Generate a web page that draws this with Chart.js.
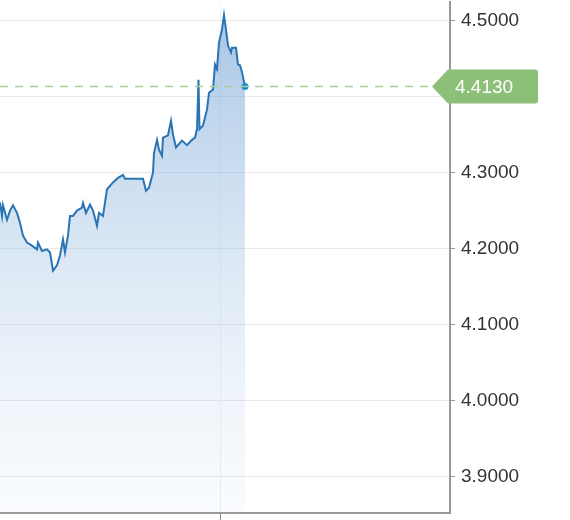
<!DOCTYPE html>
<html>
<head>
<meta charset="utf-8">
<script src="https://cdn.jsdelivr.net/npm/chart.js@4"></script>
<style>
  html, body { margin: 0; padding: 0; background: #fff; }
  #wrap { width: 570px; height: 520px; overflow: hidden; position: relative; }
  #chart { position: absolute; left: -4px; top: -15px; }
</style>
</head>
<body>
<div id="wrap"><canvas id="chart" width="574" height="545"></canvas></div>
<script>
// position along the time axis (0..450 span) and price
const times = [0, 2, 3, 7, 10, 13, 17, 20, 23, 27, 32, 37, 38, 42, 47, 50, 53, 57, 60, 63, 65, 68, 70, 73, 77, 82, 83, 86, 90, 93, 97, 99, 103, 107, 113, 118, 123, 125, 143, 146, 149, 153, 154, 157, 159, 162, 163, 168, 171, 173, 176, 182, 187, 192, 195, 197, 198.5, 199.5, 203, 207, 209, 213, 215, 217, 219, 222, 224, 226, 228, 231, 232, 236, 238, 240, 242, 245];
const prices = [4.2605, 4.243, 4.257, 4.238, 4.25, 4.257, 4.247, 4.234, 4.217, 4.208, 4.204, 4.199, 4.208, 4.197, 4.199, 4.195, 4.171, 4.178, 4.191, 4.212, 4.195, 4.217, 4.243, 4.243, 4.25, 4.254, 4.26, 4.247, 4.258, 4.25, 4.23, 4.247, 4.243, 4.278, 4.287, 4.293, 4.297, 4.292, 4.292, 4.276, 4.28, 4.3, 4.326, 4.343, 4.33, 4.322, 4.346, 4.349, 4.368, 4.35, 4.333, 4.342, 4.336, 4.343, 4.346, 4.357, 4.422, 4.357, 4.362, 4.383, 4.405, 4.409, 4.442, 4.436, 4.471, 4.488, 4.507, 4.488, 4.467, 4.458, 4.464, 4.464, 4.442, 4.441, 4.432, 4.413];
const yTicks = [3.9, 4.0, 4.1, 4.2, 4.3, 4.4, 4.5];
const xTicks = [220];
const lastPrice = 4.413;

const FONT = '"Liberation Sans", Arial, sans-serif';

const lastLine = {
  id: 'lastLine',
  afterDatasetsDraw(chart) {
    const { ctx, chartArea, scales } = chart;
    const y = scales.y.getPixelForValue(lastPrice);
    ctx.save();
    ctx.strokeStyle = '#a8cf98';
    ctx.lineWidth = 1.5;
    ctx.setLineDash([8, 7]);
    ctx.beginPath();
    ctx.moveTo(chartArea.left, y);
    ctx.lineTo(chartArea.right - 20, y);
    ctx.stroke();
    ctx.setLineDash([]);
    // label tag
    const x0 = chartArea.right - 18, h = 34, w = 106;
    ctx.fillStyle = '#8cc078';
    ctx.beginPath();
    ctx.moveTo(x0, y);
    ctx.lineTo(x0 + 16, y - h / 2);
    ctx.lineTo(x0 + w - 3, y - h / 2);
    ctx.quadraticCurveTo(x0 + w, y - h / 2, x0 + w, y - h / 2 + 3);
    ctx.lineTo(x0 + w, y + h / 2 - 3);
    ctx.quadraticCurveTo(x0 + w, y + h / 2, x0 + w - 3, y + h / 2);
    ctx.lineTo(x0 + 16, y + h / 2);
    ctx.closePath();
    ctx.fill();
    ctx.fillStyle = '#fff';
    ctx.font = '19px ' + FONT;
    ctx.textBaseline = 'middle';
    ctx.fillText(lastPrice.toFixed(4), x0 + 23, y + 1);
    ctx.restore();
  }
};

new Chart(document.getElementById('chart'), {
  type: 'line',
  data: {
    datasets: [{
      data: times.map((t, i) => ({ x: t, y: prices[i] })),
      borderColor: '#2a74b5',
      borderWidth: 2,
      tension: 0,
      fill: 'start',
      backgroundColor: (c) => {
        const a = c.chart.chartArea;
        if (!a) return 'rgba(120,165,210,0.5)';
        const g = c.chart.ctx.createLinearGradient(0, a.top, 0, a.bottom);
        g.addColorStop(0, 'rgba(110,160,212,0.62)');
        g.addColorStop(1, 'rgba(200,220,240,0.1)');
        return g;
      },
      pointRadius: times.map((t, i) => i === times.length - 1 ? 3.5 : 0),
      pointBackgroundColor: '#1b8fd2',
      pointBorderWidth: 0
    }]
  },
  options: {
    responsive: false,
    animation: false,
    layout: { padding: 0 },
    plugins: { legend: { display: false }, tooltip: { enabled: false } },
    scales: {
      x: {
        type: 'linear', min: 0, max: 450,
        afterBuildTicks: (s) => { s.ticks = xTicks.map(v => ({ value: v })); },
        afterFit: (s) => { s.height = 8; },
        ticks: { display: false },
        grid: { color: '#eef0f3', tickLength: 8, tickColor: '#888', drawTicks: true },
        border: { color: '#999', width: 2 }
      },
      y: {
        position: 'right', min: 3.853, max: 4.5237,
        afterBuildTicks: (s) => { s.ticks = yTicks.map(v => ({ value: v })); },
        afterFit: (s) => { s.width = 120; },
        ticks: {
          color: '#333', padding: 6,
          font: { family: FONT, size: 19 },
          callback: (v) => v.toFixed(4)
        },
        grid: { color: '#e8e8e8', tickLength: 5, tickColor: '#999' },
        border: { color: '#999', width: 2 }
      }
    }
  },
  plugins: [lastLine]
});
</script>
</body>
</html>
